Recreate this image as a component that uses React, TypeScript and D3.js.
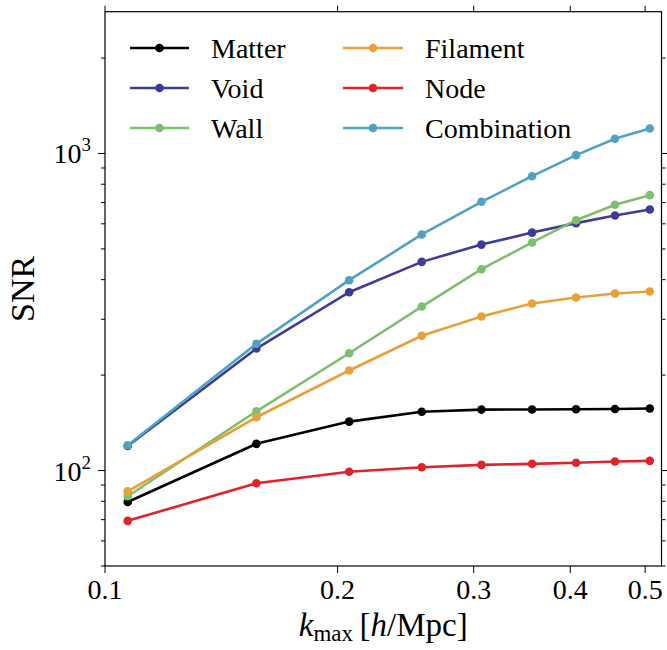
import React from "react";
import * as d3 from "d3";

const kValues = [0.107, 0.157, 0.207, 0.257, 0.307, 0.357, 0.407, 0.457, 0.507];
const matter = [79.6, 121.4, 142.7, 153.2, 155.7, 155.8, 156.0, 156.3, 157.0];
const voidS = [119.5, 242.6, 365.1, 455.2, 516, 563, 603, 637.6, 666];
const wall = [83.0, 153.8, 234.4, 329, 431.5, 524, 616, 689, 739];
const filament = [86.0, 147.3, 206.8, 266, 306, 336.4, 351.3, 361.7, 367];
const node = [69.4, 91.2, 99.1, 102.4, 104.2, 105.0, 105.8, 106.8, 107.3];
const combination = [120.2, 251, 398.4, 555.3, 704, 848, 988, 1113, 1199];

const seriesNames = ["Matter", "Void", "Wall", "Filament", "Node", "Combination"];
const seriesValues = [matter, voidS, wall, filament, node, combination];
const seriesColors = ["#000000", "#3d3c98", "#7dbf6e", "#e9a03b", "#e0232a", "#4fa2c0"];

const xTicks = [0.1, 0.2, 0.3, 0.4, 0.5];
const xTickLabels = ["0.1", "0.2", "0.3", "0.4", "0.5"];
const yMajor = [100, 1000];
const yMajorExp = ["2", "3"];
const yMinor = [50, 60, 70, 80, 90, 200, 300, 400, 500, 600, 700, 800, 900, 2000];

const W = 667;
const H = 650;
const L = 105, R = 661.5, T = 11.7, B = 566;
const FONT = "'Liberation Serif', 'Times New Roman', 'DejaVu Serif', serif";
const tStyle = { fontFamily: FONT };

export default function App() {
  const x = d3.scaleLog().domain([0.1, 0.525]).range([L, R]);
  const y = d3.scaleLog().domain([50, 2800]).range([B, T]);
  const line = d3
    .line<number>()
    .x((_, i) => x(kValues[i]))
    .y((d) => y(d));

  const legendRows = [48, 88, 128];
  const legendCols = [
    { x0: 130, x1: 189, tx: 211 },
    { x0: 343, x1: 403, tx: 425 },
  ];

  return (
    <svg
      width={W}
      height={H}
      style={{ position: "absolute", left: 0, top: 0, background: "#fff" }}
    >
      <rect x={0} y={0} width={W} height={H} fill="#fff" />
      {seriesValues.map((vals, si) => (
        <g key={si}>
          <path d={line(vals) || ""} fill="none" stroke={seriesColors[si]} strokeWidth={2.6} />
          {vals.map((v, i) => (
            <circle key={i} cx={x(kValues[i])} cy={y(v)} r={4.3} fill={seriesColors[si]} />
          ))}
        </g>
      ))}
      <rect x={L} y={T} width={R - L} height={B - T} fill="none" stroke="#000" strokeWidth={1.2} />
      {xTicks.map((t, i) => (
        <g key={i}>
          <line x1={x(t)} x2={x(t)} y1={B} y2={B + 7} stroke="#000" strokeWidth={1} />
          <line x1={x(t)} x2={x(t)} y1={T} y2={T - 6} stroke="#000" strokeWidth={1} />
          <text x={x(t)} y={599} fontSize={28} textAnchor="middle" fill="#000" style={tStyle}>
            {xTickLabels[i]}
          </text>
        </g>
      ))}
      {yMajor.map((t, i) => (
        <g key={i}>
          <line x1={L - 7} x2={L} y1={y(t)} y2={y(t)} stroke="#000" strokeWidth={1} />
          <line x1={R} x2={R + 7} y1={y(t)} y2={y(t)} stroke="#000" strokeWidth={1} />
          <text x={91} y={y(t) + 10} fontSize={28} textAnchor="end" fill="#000" style={tStyle}>
            10
            <tspan fontSize={19} dy={-12}>
              {yMajorExp[i]}
            </tspan>
          </text>
        </g>
      ))}
      {yMinor.map((t, i) => (
        <g key={i}>
          <line x1={L - 4} x2={L} y1={y(t)} y2={y(t)} stroke="#000" strokeWidth={1} />
          <line x1={R} x2={R + 4} y1={y(t)} y2={y(t)} stroke="#000" strokeWidth={1} />
        </g>
      ))}
      <text x={(L + R) / 2} y={636} fontSize={33} textAnchor="middle" fill="#000" style={tStyle}>
        <tspan fontStyle="italic">k</tspan>
        <tspan fontSize={23} dy={5}>max</tspan>
        <tspan dy={-5}>{"\u2009["}</tspan>
        <tspan fontStyle="italic">h</tspan>
        <tspan>/Mpc]</tspan>
      </text>
      <text
        transform={`translate(34, ${(T + B) / 2}) rotate(-90)`}
        fontSize={34}
        textAnchor="middle"
        fill="#000"
        style={tStyle}
      >
        SNR
      </text>
      {seriesNames.map((name, si) => {
        const col = legendCols[Math.floor(si / 3)];
        const ry = legendRows[si % 3];
        return (
          <g key={si}>
            <line x1={col.x0} x2={col.x1} y1={ry} y2={ry} stroke={seriesColors[si]} strokeWidth={2.6} />
            <circle cx={(col.x0 + col.x1) / 2} cy={ry} r={4.3} fill={seriesColors[si]} />
            <text x={col.tx} y={ry + 10} fontSize={28} fill="#000" style={tStyle}>
              {name}
            </text>
          </g>
        );
      })}
    </svg>
  );
}
